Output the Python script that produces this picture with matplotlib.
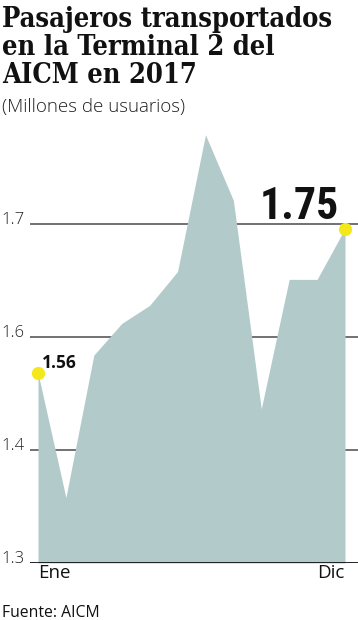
import numpy as np
import matplotlib
matplotlib.use("Agg")
import matplotlib.pyplot as plt

# monthly passengers, millions
months = ["Ene", "Feb", "Mar", "Abr", "May", "Jun", "Jul", "Ago", "Sep", "Oct", "Nov", "Dic"]
passengers = [1.536, 1.358, 1.568, 1.612, 1.628, 1.658, 1.779, 1.721, 1.473, 1.651, 1.651, 1.696]
ytick_values = [1.3, 1.4, 1.6, 1.7]
ytick_labels = ["1.3", "1.4", "1.6", "1.7"]
xtick_labels = ["Ene", "Dic"]
callouts = {0: "1.56", 11: "1.75"}

title_lines = ["Pasajeros transportados", "en la Terminal 2 del", "AICM en 2017"]
subtitle = "(Millones de usuarios)"
source = "Fuente: AICM"

AREA = "#b3cacb"
YELLOW = "#f4e81a"

# the graphic spaces its gridlines evenly even though 1.5 is skipped
_vals = [1.0, 1.3, 1.4, 1.6, 1.7, 2.0]
_pos = [-3, 0, 1, 2, 3, 6]


def forward(v):
    return np.interp(v, _vals, _pos)


def inverse(p):
    return np.interp(p, _pos, _vals)


W, H = 358, 620
fig = plt.figure(figsize=(W / 100, H / 100), dpi=100)
ax = fig.add_axes([30 / W, 1 - 563 / H, 1 - 30 / W, (563 - 120) / H])
ax.set_yscale("function", functions=(forward, inverse))

x = np.arange(len(months))
ax.set_xlim(-8 / 27.9, 11 + 13 / 27.9)
ax.set_ylim(1.3, inverse(443 / 113))

for v in ytick_values[1:]:
    ax.axhline(v, color="#4a4a4a", lw=1.1, zorder=1)
ax.axhline(1.3, color="#111111", lw=2.0, zorder=4)

ax.fill_between(x, 1.3, passengers, color=AREA, lw=0, zorder=2)

for i in callouts:
    ax.plot(x[i], passengers[i], "o", ms=9.5, color=YELLOW, mec="none", zorder=5)

ax.annotate(callouts[0], (x[0], passengers[0]), xytext=(3, 3.5), textcoords="offset points",
            fontsize=12.5, fontweight="bold", family=["Open Sans", "DejaVu Sans"],
            ha="left", va="baseline", color="#111111", zorder=6)
ax.annotate(callouts[11], (x[11], passengers[11]), xytext=(-4.5, 6.5), textcoords="offset points",
            fontsize=31.5, fontweight="bold", fontstretch="condensed",
            family=["Roboto Condensed", "Roboto", "DejaVu Sans"],
            ha="right", va="baseline", color="#111111", zorder=6)

for s in ax.spines.values():
    s.set_visible(False)

ax.set_yticks(ytick_values)
ax.set_yticklabels(ytick_labels, fontsize=12, family=["Open Sans", "DejaVu Sans"],
                   fontweight="light", color="#222222")
for t in ax.get_yticklabels():
    t.set_verticalalignment("baseline")
ax.tick_params(axis="y", length=0, pad=4)
ax.yaxis.set_minor_locator(matplotlib.ticker.NullLocator())

ax.set_xticks([x[0], x[-1]])
ax.set_xticklabels(xtick_labels, fontsize=13.5, family=["Open Sans", "DejaVu Sans"],
                   color="#111111")
ax.get_xticklabels()[0].set_horizontalalignment("left")
ax.get_xticklabels()[1].set_horizontalalignment("right")
ax.tick_params(axis="x", length=0, pad=1)

# title: fit the first line to the reference width
renderer = fig.canvas.get_renderer()
baselines = [27, 55, 83]
probe = fig.text(0, 0, title_lines[0], fontsize=20, fontweight="bold",
                 family="DejaVu Serif", fontstretch="condensed")
width = probe.get_window_extent(renderer).width
probe.remove()
title_size = 20 * 331 / width
for line, b in zip(title_lines, baselines):
    fig.text(2 / W, 1 - b / H, line, fontsize=title_size, fontweight="bold",
             family="DejaVu Serif", fontstretch="condensed", va="baseline", ha="left",
             color="#111111")

fig.text(2 / W, 1 - 112 / H, subtitle, fontsize=13.5, fontweight="light",
         family=["Open Sans", "DejaVu Sans"], va="baseline", ha="left", color="#222222")
fig.text(2 / W, 1 - 617 / H, source, fontsize=11.3, family=["Open Sans", "DejaVu Sans"],
         va="baseline", ha="left", color="#111111")

fig.savefig("out.png", dpi=100)
